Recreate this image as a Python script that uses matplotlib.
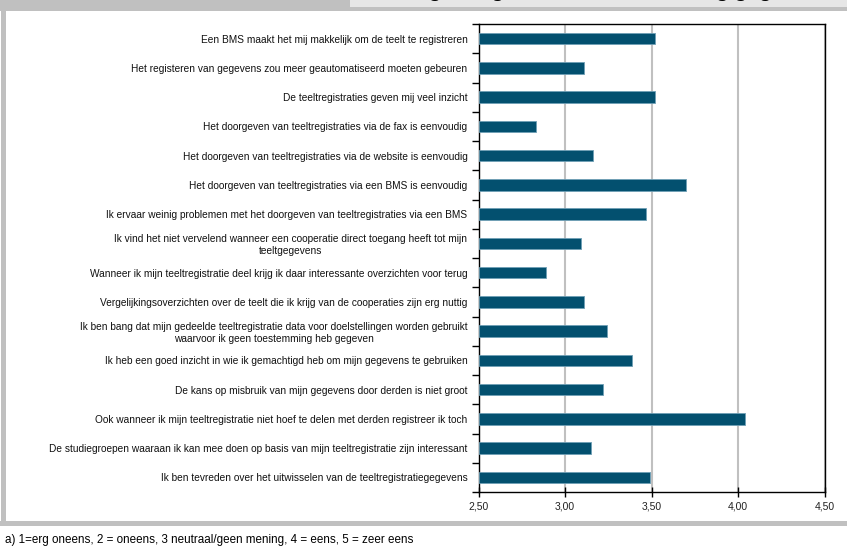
import numpy as np
import matplotlib
matplotlib.use("Agg")
import matplotlib.pyplot as plt
from matplotlib.patches import Rectangle

plt.rcParams['font.family'] = ['Liberation Sans Narrow', 'Liberation Sans', 'DejaVu Sans']

# statements, top to bottom as in the chart
statements = [
    "Een BMS maakt het mij makkelijk om de teelt te registreren",
    "Het registeren van gegevens zou meer geautomatiseerd moeten gebeuren",
    "De teeltregistraties geven mij veel inzicht",
    "Het doorgeven van teeltregistraties via de fax is eenvoudig",
    "Het doorgeven van teeltregistraties via de website is eenvoudig",
    "Het doorgeven van teeltregistraties via een BMS is eenvoudig",
    "Ik ervaar weinig problemen met het doorgeven van teeltregistraties via een BMS",
    "Ik vind het niet vervelend wanneer een cooperatie direct toegang heeft tot mijn\nteeltgegevens",
    "Wanneer ik mijn teeltregistratie deel krijg ik daar interessante overzichten voor terug",
    "Vergelijkingsoverzichten over de teelt die ik krijg van de cooperaties zijn erg nuttig",
    "Ik ben bang dat mijn gedeelde teeltregistratie data voor doelstellingen worden gebruikt\nwaarvoor ik geen toestemming heb gegeven",
    "Ik heb een goed inzicht in wie ik gemachtigd heb om mijn gegevens te gebruiken",
    "De kans op misbruik van mijn gegevens door derden is niet groot",
    "Ook wanneer ik mijn teeltregistratie niet hoef te delen met derden registreer ik toch",
    "De studiegroepen waaraan ik kan mee doen op basis van mijn teeltregistratie zijn interessant",
    "Ik ben tevreden over het uitwisselen van de teeltregistratiegegevens",
]
scores = [3.52, 3.11, 3.52, 2.83, 3.16, 3.70, 3.47, 3.09,
          2.89, 3.11, 3.24, 3.39, 3.22, 4.04, 3.15, 3.49]

xticks = [2.5, 3.0, 3.5, 4.0, 4.5]
xtick_labels = ["2,50", "3,00", "3,50", "4,00", "4,50"]

title = "stellingen registratie en uitwisseling gegevens teeltregistratie a)"
footnote = "a) 1=erg oneens, 2 = oneens, 3 neutraal/geen mening, 4 = eens, 5 = zeer eens"

W, H = 847, 550
fig = plt.figure(figsize=(W / 100, H / 100), dpi=100)
fig.patch.set_facecolor("white")


def px_rect(x0, y0, x1, y1, color):
    # rectangle in pixel coords (origin top-left)
    fig.patches.append(Rectangle((x0 / W, 1 - y1 / H), (x1 - x0) / W, (y1 - y0) / H,
                                 transform=fig.transFigure, facecolor=color,
                                 edgecolor="none", zorder=0))


px_rect(0, 0, W, 11, "#c0c0c0")
px_rect(350, 0, W, 7, "#e6e6e6")
px_rect(1, 0, 6, 522, "#c0c0c0")
px_rect(0, 521, W, 526, "#c0c0c0")

# title strip is cut off at the top edge, as in the source image
fig.text(368 / W, 1 + 3 / H, title, fontsize=15, fontweight="bold",
         family=['Liberation Sans', 'DejaVu Sans'], ha="left", va="baseline", color="black")

ax = fig.add_axes([478.5 / W, 1 - 492 / H, 346 / W, 468 / H])
y = np.arange(len(scores))
ax.barh(y, [s - 2.5 for s in scores], left=2.5, height=0.4, color="#03506f",
        edgecolor="#6f9fb5", linewidth=0.6, zorder=3)

ax.set_xlim(2.5, 4.5)
ax.set_ylim(len(scores) - 0.5, -0.5)
ax.set_xticks(xticks)
ax.set_xticklabels(xtick_labels, fontsize=7.5, color="#222222")
ax.set_yticks(y)
ax.set_yticklabels(statements, fontsize=7.3, color="#111111")
for t in ax.get_yticklabels():
    t.set_multialignment("center")
ax.set_yticks(np.arange(len(scores) + 1) - 0.5, minor=True)
ax.tick_params(axis="y", which="major", length=0, pad=8)
ax.tick_params(axis="y", which="minor", length=5, width=1, direction="out")
ax.tick_params(axis="x", length=7, width=1, direction="inout", pad=3)

ax.grid(axis="x", color="#c0c0c0", linewidth=1.5, zorder=0)
ax.set_axisbelow(True)
for s in ax.spines.values():
    s.set_color("black")
    s.set_linewidth(1)

fig.text(5 / W, 1 - 540 / H, footnote, fontsize=8.4, ha="left", va="center", color="black")

fig.savefig("out.png", dpi=100)
